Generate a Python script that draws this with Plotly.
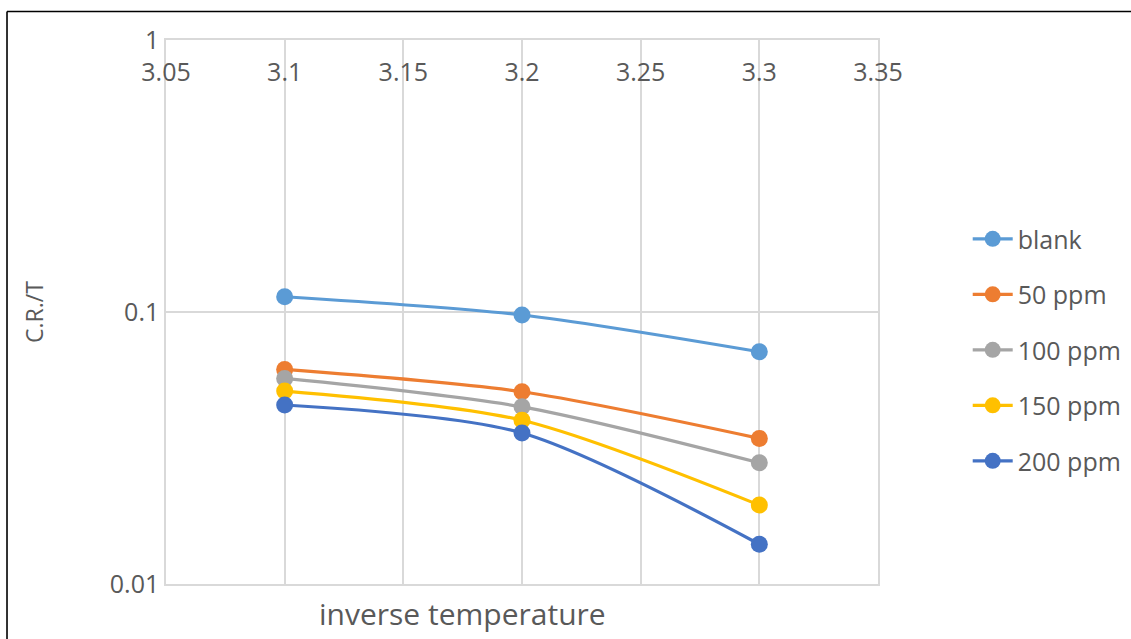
import plotly.graph_objects as go

# Inverse temperature (x) and C.R./T values per inhibitor concentration
inv_temp = [3.1, 3.2, 3.3]
series_names = ["blank", "50 ppm", "100 ppm", "150 ppm", "200 ppm"]
blank = [0.1138, 0.0975, 0.0714]
ppm_50 = [0.0615, 0.0509, 0.0343]
ppm_100 = [0.0570, 0.0448, 0.0279]
ppm_150 = [0.0512, 0.0400, 0.0195]
ppm_200 = [0.0455, 0.0359, 0.0140]
colors = ["#5B9BD5", "#ED7D31", "#A5A5A5", "#FFC000", "#4472C4"]

x_ticks = [3.05, 3.1, 3.15, 3.2, 3.25, 3.3, 3.35]
x_tick_text = ["3.05", "3.1", "3.15", "3.2", "3.25", "3.3", "3.35"]
y_ticks = [0.01, 0.1, 1]
y_tick_text = ["0.01", "0.1", "1"]

FONT = "Open Sans"
GREY = "#595959"
GRID = "#D9D9D9"

fig = go.Figure()
for name, vals, col in zip(series_names, [blank, ppm_50, ppm_100, ppm_150, ppm_200], colors):
    fig.add_trace(go.Scatter(
        x=inv_temp, y=vals, name=name, legendgroup=name,
        mode="lines+markers",
        line=dict(color=col, width=3.2, shape="spline", smoothing=0.8),
        marker=dict(color=col, size=17),
    ))

fig.update_layout(
    width=1131, height=639,
    margin=dict(l=166, r=253, t=40, b=55, autoexpand=False),
    paper_bgcolor="white", plot_bgcolor="white",
    font=dict(family=FONT, size=25, color=GREY),
    showlegend=True,
    legend=dict(
        x=1.126, xanchor="left", y=0.43, yanchor="middle",
        font=dict(family=FONT, size=25, color=GREY),
        tracegroupgap=20, itemwidth=40,
        bgcolor="rgba(0,0,0,0)",
    ),
    xaxis=dict(
        range=[3.05, 3.35], side="top", automargin=False,
        tickvals=x_ticks, ticktext=x_tick_text,
        ticklabelposition="inside", ticklabelstandoff=26, ticklabeloverflow="allow",
        ticks="", showgrid=True, gridcolor=GRID, gridwidth=1.5,
        showline=True, mirror=True, linecolor=GRID, linewidth=1.5, zeroline=False,
        tickfont=dict(family=FONT, size=25, color=GREY),
    ),
    yaxis=dict(
        type="log", range=[-2, 0], automargin=False,
        tickvals=y_ticks, ticktext=y_tick_text, ticklabeloverflow="allow",
        ticks="", showgrid=True, gridcolor=GRID, gridwidth=1.5,
        showline=True, mirror=True, linecolor=GRID, linewidth=1.5, zeroline=False,
        tickfont=dict(family=FONT, size=25, color=GREY),
        title=dict(text="C.R./T", font=dict(family=FONT, size=23, color=GREY), standoff=60),
    ),
    annotations=[dict(
        text="inverse temperature", xref="paper", yref="paper",
        x=0.212, y=-0.0965, xanchor="left", yanchor="bottom", showarrow=False,
        font=dict(family=FONT, size=30, color=GREY),
    )],
    shapes=[
        # outer chart border (left and top edges)
        dict(type="line", xref="paper", yref="paper", x0=-0.2233, x1=-0.2233,
             y0=-0.15, y1=1.0524, line=dict(color="black", width=1.6)),
        dict(type="line", xref="paper", yref="paper", x0=-0.2233, x1=1.4,
             y0=1.0524, y1=1.0524, line=dict(color="black", width=1.6)),
    ],
)

fig.write_html("out.html")
